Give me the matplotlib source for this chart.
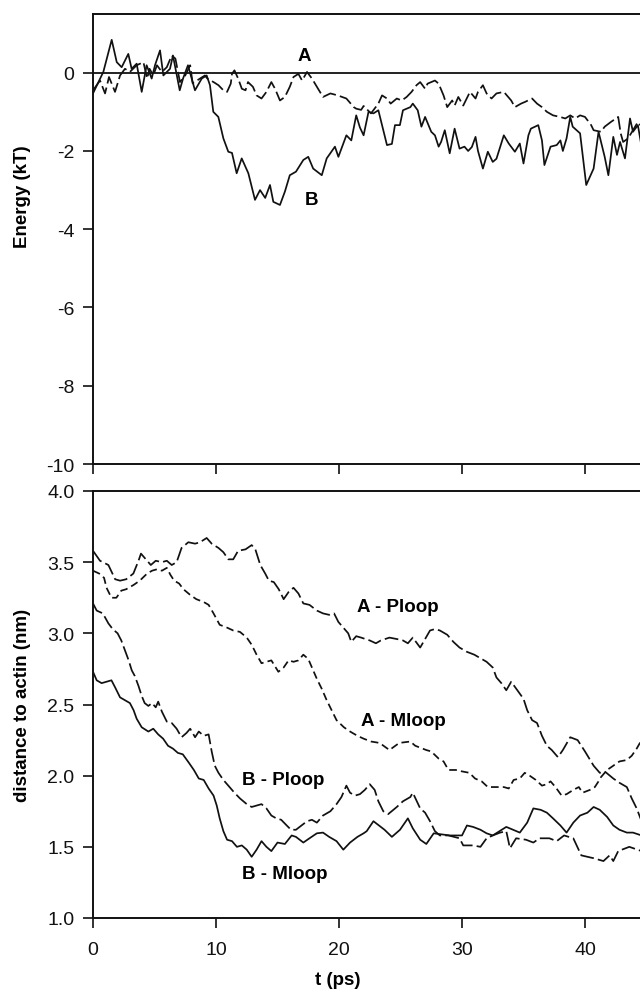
import matplotlib
matplotlib.use('Agg')
import matplotlib.pyplot as plt
from matplotlib.ticker import FuncFormatter

plt.rcParams['font.family'] = ['Liberation Sans', 'DejaVu Sans']
plt.rcParams['lines.scale_dashes'] = False

# ---------------- data: energy panel ----------------
tA = [0.0, 0.57, 0.98, 1.3, 1.79, 2.2, 2.6, 3.0, 3.55, 4.1, 4.4, 4.6, 4.9, 5.2, 5.6, 6.0, 6.4, 6.7,
      7.07, 7.5, 7.9, 8.1, 8.7, 9.1, 9.3, 9.8, 10.2, 10.6, 10.9, 11.2, 11.3, 11.5, 11.8, 12.1, 12.4,
      12.6, 13.0, 13.3, 13.7, 14.1, 14.5, 14.8, 15.2, 15.6, 16.0, 16.3, 16.7, 17.0, 17.4, 17.8,
      18.45, 18.7, 19.3, 19.9, 20.6, 21.2, 21.4, 21.8, 22.0, 22.6, 23.2, 23.5, 23.9, 24.2, 24.7,
      25.1, 25.5, 25.9, 26.3, 26.6, 27.0, 27.2, 27.8, 28.1, 28.5, 28.8, 29.2, 29.4, 29.7, 30.1,
      30.65, 31.1, 31.3, 31.7, 32.0, 32.4, 32.8, 33.4, 34.0, 34.3, 34.8, 35.1, 35.7, 36.1, 36.5,
      36.9, 37.4, 37.97, 38.4, 38.8, 39.2, 39.6, 40.0, 40.5, 40.7, 41.3, 41.6, 42.1, 42.7, 42.9,
      43.1, 43.5, 43.9, 44.3, 44.6]
eA = [-0.45, -0.2, -0.53, -0.11, -0.49, -0.07, 0.1, 0.02, 0.19, 0.27, -0.15, 0.1, -0.07, 0.19, 0.02,
      0.14, 0.44, 0.36, -0.24, -0.07, 0.19, -0.27, -0.15, -0.07, -0.15, -0.24, -0.32, -0.45, -0.49,
      -0.28, -0.03, 0.06, -0.15, -0.41, -0.45, -0.24, -0.36, -0.58, -0.66, -0.49, -0.24, -0.41,
      -0.71, -0.62, -0.36, -0.11, -0.03, -0.2, 0.02, -0.15, -0.49, -0.62, -0.53, -0.58, -0.66,
      -0.88, -0.92, -0.95, -0.85, -1.04, -0.79, -0.58, -0.66, -0.79, -0.66, -0.71, -0.62, -0.49,
      -0.32, -0.24, -0.41, -0.28, -0.2, -0.28, -0.58, -0.88, -0.71, -0.84, -0.62, -0.84, -0.49,
      -0.66, -0.49, -0.32, -0.53, -0.66, -0.53, -0.49, -0.71, -0.88, -0.79, -0.75, -0.66, -0.79,
      -0.88, -1.0, -1.09, -1.13, -1.17, -1.09, -1.17, -1.09, -1.13, -1.34, -1.47, -1.51, -1.38,
      -1.26, -1.13, -1.55, -1.77, -1.68, -1.47, -1.26, -1.38]

tB = [0.0, 0.84, 1.52, 1.93, 2.33, 2.87, 3.14, 3.55, 3.96, 4.36, 4.77, 5.04, 5.45, 5.72, 6.26, 6.5,
      7.05, 7.32, 7.72, 8.29, 8.84, 9.24, 9.51, 9.78, 10.19, 10.6, 11.0, 11.3, 11.68, 12.09, 12.63,
      13.17, 13.58, 14.0, 14.39, 14.66, 15.2, 15.6, 16.0, 16.5, 17.1, 17.5, 17.9, 18.6, 19.0,
      19.67, 19.95, 20.6, 21.0, 21.4, 21.7, 22.0, 22.4, 22.8, 23.2, 23.9, 24.3, 24.55, 24.95,
      25.2, 25.8, 26.0, 26.4, 26.7, 27.0, 27.5, 27.8, 28.1, 28.3, 28.6, 29.0, 29.4, 29.8, 30.2,
      30.5, 30.8, 31.1, 31.3, 31.7, 32.1, 32.5, 32.8, 33.4, 33.8, 34.3, 34.7, 35.0, 35.4, 35.6,
      36.2, 36.5, 36.7, 37.2, 37.7, 38.0, 38.2, 38.5, 38.8, 39.0, 39.6, 40.1, 40.7, 41.1, 41.6,
      41.9, 42.3, 42.6, 42.85, 43.25, 43.66, 43.9, 44.3, 44.6]
eB = [-0.53, 0.02, 0.84, 0.27, 0.14, 0.48, 0.1, 0.23, -0.49, 0.19, -0.15, 0.19, 0.57, -0.07, 0.1,
      0.44, -0.45, -0.15, 0.19, -0.45, -0.15, -0.07, -0.32, -1.0, -1.13, -1.68, -2.02, -2.05,
      -2.57, -2.19, -2.57, -3.25, -3.0, -3.2, -2.87, -3.3, -3.38, -3.04, -2.62, -2.53, -2.23,
      -2.15, -2.45, -2.62, -2.19, -1.89, -2.15, -1.6, -1.73, -1.09, -1.4, -1.6, -1.0, -1.04,
      -0.96, -1.85, -1.82, -1.34, -1.34, -0.96, -0.88, -0.79, -0.96, -1.38, -1.13, -1.51, -1.6,
      -1.89, -1.77, -1.47, -2.06, -1.43, -1.94, -1.89, -2.0, -1.9, -1.64, -2.0, -2.45, -2.02,
      -2.28, -2.2, -1.6, -1.81, -2.02, -1.81, -2.32, -1.6, -1.43, -1.34, -1.73, -2.36, -1.89,
      -1.85, -1.73, -2.0, -1.68, -1.13, -1.38, -1.55, -2.87, -2.45, -1.51, -2.15, -2.62, -1.64,
      -2.1, -1.77, -2.19, -1.17, -1.51, -1.34, -1.89]

# ---------------- data: distance panel ----------------
tAP = [0, 0.57, 1.25, 1.8, 2.2, 2.7, 3.28, 3.7, 3.9, 4.4, 4.7, 5.1, 5.6, 6.0, 6.4, 6.8, 7.2, 7.75,
       8.3, 8.7, 9.24, 9.65, 10.2, 10.6, 11.0, 11.4, 11.8, 12.4, 12.9, 13.2, 13.6, 14.0, 14.3,
       14.7, 15.1, 15.5, 15.9, 16.3, 16.7, 17.1, 17.6, 18.2, 18.7, 19.2, 19.6, 19.95, 20.35,
       20.75, 21.0, 21.4, 21.8, 22.5, 23.0, 23.4, 24.1, 24.7, 25.2, 25.6, 26.0, 26.6, 27.0, 27.4,
       27.8, 28.2, 28.8, 29.3, 29.8, 30.4, 31.0, 31.6, 32.0, 32.5, 32.8, 33.2, 33.6, 34.0, 34.5,
       35.0, 35.3, 35.7, 36.1, 36.5, 36.9, 37.3, 37.8, 38.2, 38.8, 39.4, 40.0, 40.7, 41.2, 41.6,
       42.3, 42.8, 43.4, 43.8, 44.2, 44.6]
dAP = [3.58, 3.51, 3.48, 3.38, 3.37, 3.38, 3.42, 3.51, 3.56, 3.51, 3.48, 3.51, 3.50, 3.51, 3.48,
       3.50, 3.60, 3.64, 3.63, 3.64, 3.67, 3.63, 3.60, 3.57, 3.52, 3.52, 3.58, 3.59, 3.62, 3.59,
       3.48, 3.42, 3.37, 3.36, 3.31, 3.24, 3.29, 3.32, 3.28, 3.21, 3.20, 3.16, 3.14, 3.13, 3.14,
       3.08, 3.04, 3.00, 2.94, 2.98, 2.97, 2.95, 2.93, 2.95, 2.97, 2.96, 2.95, 2.93, 2.97, 2.90,
       2.96, 3.02, 3.03, 3.02, 2.99, 2.94, 2.90, 2.87, 2.85, 2.82, 2.80, 2.76, 2.69, 2.65, 2.60,
       2.66, 2.60, 2.54, 2.46, 2.39, 2.37, 2.28, 2.21, 2.18, 2.13, 2.18, 2.27, 2.25, 2.17, 2.07,
       2.02, 2.03, 1.98, 1.95, 1.92, 1.84, 1.77, 1.68]

tAM = [0, 0.5, 0.9, 1.1, 1.5, 1.9, 2.3, 2.7, 3.3, 3.8, 4.4, 4.8, 5.2, 5.6, 6.0, 6.3, 6.6, 7.0, 7.35,
       7.9, 8.4, 9.0, 9.4, 9.8, 10.3, 10.9, 11.4, 11.95, 12.5, 12.9, 13.3, 13.7, 14.1, 14.5, 15.07,
       15.5, 15.9, 16.3, 16.7, 17.1, 17.5, 17.8, 18.2, 18.6, 19.0, 19.4, 19.8, 20.4, 20.9, 21.5,
       22.0, 22.6, 23.3, 24.1, 24.9, 25.8, 26.2, 27.1, 27.5, 28.1, 28.5, 28.9, 29.5, 30.0, 30.6,
       31.06, 31.6, 32.1, 32.8, 33.4, 33.8, 34.2, 34.7, 35.1, 35.5, 36.0, 36.5, 36.9, 37.2, 37.6,
       38.1, 38.5, 39.05, 39.5, 39.8, 40.4, 40.8, 41.1, 41.3, 41.8, 42.3, 42.8, 43.4, 43.8, 44.2,
       44.6]
dAM = [3.44, 3.42, 3.39, 3.32, 3.25, 3.25, 3.30, 3.31, 3.34, 3.37, 3.42, 3.44, 3.45, 3.44, 3.46,
       3.41, 3.37, 3.35, 3.31, 3.27, 3.24, 3.22, 3.20, 3.14, 3.06, 3.04, 3.02, 3.01, 2.97, 2.92,
       2.85, 2.79, 2.80, 2.81, 2.73, 2.76, 2.81, 2.80, 2.81, 2.85, 2.82, 2.76, 2.68, 2.61, 2.53,
       2.46, 2.39, 2.34, 2.31, 2.28, 2.26, 2.24, 2.23, 2.18, 2.23, 2.24, 2.21, 2.18, 2.17, 2.12,
       2.10, 2.04, 2.04, 2.03, 2.02, 1.98, 1.96, 1.92, 1.92, 1.92, 1.91, 1.97, 1.98, 2.02, 2.00,
       1.97, 1.93, 1.94, 1.96, 1.92, 1.86, 1.87, 1.90, 1.92, 1.88, 1.90, 1.92, 1.96, 1.99, 2.04,
       2.07, 2.10, 2.11, 2.14, 2.19, 2.25]

tBP = [0, 0.3, 0.8, 1.25, 1.6, 2.0, 2.3, 2.6, 2.9, 3.15, 3.4, 3.7, 3.96, 4.2, 4.5, 4.8, 5.1, 5.3,
       5.6, 6.0, 6.4, 6.8, 7.2, 7.6, 7.9, 8.3, 8.6, 9.0, 9.4, 9.65, 9.9, 10.2, 10.6, 11.1, 11.5,
       11.95, 12.5, 12.9, 13.3, 13.7, 14.1, 14.5, 14.9, 15.3, 15.75, 16.1, 16.5, 16.8, 17.4,
       17.8, 18.2, 18.7, 19.3, 19.8, 20.2, 20.6, 20.9, 21.3, 21.7, 22.1, 22.5, 22.9, 23.2, 23.6,
       24.0, 24.7, 25.2, 25.8, 26.0, 26.6, 27.0, 27.4, 27.8, 28.2, 28.9, 29.8, 30.1, 30.9, 31.5,
       32.0, 32.5, 33.1, 33.6, 33.9, 34.4, 35.2, 35.8, 36.3, 37.1, 37.7, 38.3, 39.05, 39.7, 40.7,
       41.5, 42.0, 42.3, 42.7, 43.6, 44.6]
dBP = [3.21, 3.16, 3.14, 3.07, 3.03, 3.00, 2.95, 2.88, 2.81, 2.74, 2.70, 2.63, 2.56, 2.51, 2.49,
       2.51, 2.48, 2.52, 2.45, 2.38, 2.37, 2.33, 2.27, 2.30, 2.33, 2.27, 2.31, 2.28, 2.29, 2.17,
       2.07, 2.02, 1.97, 1.92, 1.88, 1.84, 1.80, 1.78, 1.79, 1.80, 1.77, 1.72, 1.70, 1.69, 1.65,
       1.62, 1.62, 1.64, 1.68, 1.69, 1.67, 1.72, 1.75, 1.80, 1.85, 1.93, 1.88, 1.86, 1.87, 1.90,
       1.94, 1.90, 1.82, 1.75, 1.73, 1.78, 1.82, 1.85, 1.88, 1.77, 1.74, 1.68, 1.61, 1.58, 1.58,
       1.56, 1.51, 1.51, 1.50, 1.56, 1.58, 1.60, 1.61, 1.49, 1.56, 1.55, 1.53, 1.56, 1.56, 1.54,
       1.58, 1.56, 1.44, 1.42, 1.40, 1.44, 1.40, 1.47, 1.50, 1.47]

tBM = [0, 0.3, 0.7, 1.1, 1.5, 1.8, 2.2, 2.6, 3.0, 3.3, 3.55, 3.96, 4.5, 4.9, 5.3, 5.7, 6.1, 6.5,
       6.9, 7.3, 7.8, 8.2, 8.6, 9.0, 9.4, 9.8, 10.06, 10.3, 10.6, 10.9, 11.3, 11.7, 12.1, 12.5,
       12.9, 13.3, 13.7, 14.1, 14.5, 15.0, 15.6, 16.15, 16.5, 17.1, 17.6, 18.2, 18.7, 19.2, 19.8,
       20.35, 20.9, 21.5, 22.0, 22.25, 22.8, 23.7, 24.3, 24.96, 25.6, 26.0, 26.6, 27.1, 27.7,
       29.0, 30.0, 30.4, 30.9, 31.5, 32.0, 32.5, 33.6, 34.7, 35.3, 35.8, 36.4, 36.9, 37.4, 38.0,
       38.5, 39.05, 39.6, 40.2, 40.7, 41.2, 41.8, 42.3, 42.8, 43.4, 43.9, 44.6]
dBM = [2.73, 2.67, 2.65, 2.66, 2.67, 2.62, 2.55, 2.53, 2.51, 2.46, 2.40, 2.34, 2.31, 2.33, 2.29,
       2.26, 2.21, 2.19, 2.16, 2.15, 2.09, 2.04, 1.98, 1.97, 1.91, 1.86, 1.79, 1.70, 1.61, 1.55,
       1.54, 1.50, 1.51, 1.48, 1.43, 1.48, 1.54, 1.50, 1.47, 1.53, 1.52, 1.58, 1.57, 1.53, 1.56,
       1.595, 1.60, 1.57, 1.54, 1.48, 1.53, 1.57, 1.595, 1.61, 1.68, 1.62, 1.57, 1.62, 1.70, 1.63,
       1.55, 1.52, 1.595, 1.58, 1.58, 1.65, 1.64, 1.62, 1.595, 1.58, 1.64, 1.60, 1.67, 1.77, 1.76,
       1.74, 1.70, 1.65, 1.60, 1.67, 1.72, 1.74, 1.78, 1.76, 1.71, 1.65, 1.62, 1.60, 1.60, 1.58]

energy_ticks = [0, -2, -4, -6, -8, -10]
dist_ticks = [1.0, 1.5, 2.0, 2.5, 3.0, 3.5, 4.0]
time_ticks = [0, 10, 20, 30, 40]

# ---------------- figure ----------------
W, H = 640, 995
fig = plt.figure(figsize=(W / 100, H / 100), dpi=100)
x0 = 93
xmax = (W - x0) / 12.3
ax1 = fig.add_axes([x0 / W, 1 - 465 / H, (W - x0) / W, 450 / H])
ax2 = fig.add_axes([x0 / W, 1 - 919 / H, (W - x0) / W, 427 / H])

lw = 1.25
col = '#111111'
long_dash = (0, (10, 3))
short_dash = (0, (5.5, 3))

ax1.plot(tB, eB, color=col, lw=lw)
ax1.plot(tA, eA, color=col, lw=lw, linestyle=long_dash)
ax1.axhline(0, color=col, lw=1.3)
ax1.set_xlim(0, xmax)
ax1.set_ylim(-10, 1.5)
ax1.set_yticks(energy_ticks)
ax1.set_xticks(time_ticks)
ax1.set_xticklabels([])
ax1.yaxis.set_major_formatter(FuncFormatter(lambda v, p: f"{v:.0f}"))
ax1.text(17.15, 0.43, 'A', fontsize=13.5, fontweight='bold', ha='center', va='center')
ax1.text(17.8, -3.23, 'B', fontsize=13.5, fontweight='bold', ha='center', va='center')
ax1.set_ylabel('Energy (kT)', fontsize=13.5, fontweight='bold')
ax1.yaxis.set_label_coords(-0.129, 0.596)
ax1.yaxis.label.set_verticalalignment('center')

ax2.plot(tAP, dAP, color=col, lw=lw, linestyle=long_dash)
ax2.plot(tAM, dAM, color=col, lw=lw, linestyle=short_dash)
ax2.plot(tBP, dBP, color=col, lw=lw, linestyle=long_dash)
ax2.plot(tBM, dBM, color=col, lw=lw)
ax2.set_xlim(0, xmax)
ax2.set_ylim(1.0, 4.0)
ax2.set_yticks(dist_ticks)
ax2.set_xticks(time_ticks)
ax2.yaxis.set_major_formatter(FuncFormatter(lambda v, p: f"{v:.1f}"))
lab = dict(fontsize=13.5, fontweight='bold', ha='center', va='center')
ax2.text(24.8, 3.19, 'A - Ploop', **lab)
ax2.text(25.2, 2.39, 'A - Mloop', **lab)
ax2.text(15.45, 1.97, 'B - Ploop', **lab)
ax2.text(15.6, 1.31, 'B - Mloop', **lab)
ax2.set_ylabel('distance to actin (nm)', fontsize=13.5, fontweight='bold')
ax2.yaxis.set_label_coords(-0.129, 0.5)
ax2.yaxis.label.set_verticalalignment('center')
ax2.set_xlabel('t (ps)', fontsize=13.5, fontweight='bold')
ax2.xaxis.set_label_coords(0.448, -0.145)
ax2.xaxis.label.set_verticalalignment('center')

for ax in (ax1, ax2):
    ax.spines['right'].set_visible(False)
    for s in ('left', 'top', 'bottom'):
        ax.spines[s].set_linewidth(1.4)
        ax.spines[s].set_color(col)
    ax.tick_params(direction='out', length=7.5, width=1.2, labelsize=14, color=col,
                   labelcolor=col, right=False, top=False)
    ax.tick_params(axis='y', pad=6)
    ax.tick_params(axis='x', pad=9)

fig.savefig('out.png', dpi=100)
